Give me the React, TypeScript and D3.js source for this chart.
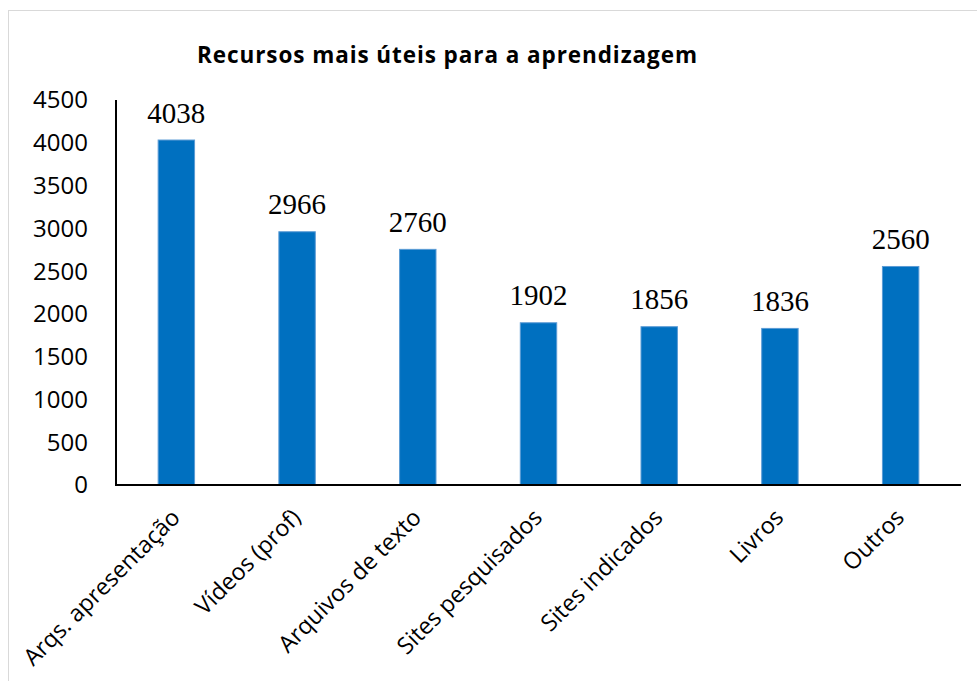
import { useEffect, useRef } from 'react'
import * as d3 from 'd3'

const categories = [
  'Arqs. apresentação',
  'Vídeos (prof)',
  'Arquivos de texto',
  'Sites pesquisados',
  'Sites indicados',
  'Livros',
  'Outros',
]
const values = [4038, 2966, 2760, 1902, 1856, 1836, 2560]
const yTicks = [0, 500, 1000, 1500, 2000, 2500, 3000, 3500, 4000, 4500]
const title = 'Recursos mais úteis para a aprendizagem'

const W = 977
const H = 681
const SANS = '"Open Sans", "Noto Sans", sans-serif'
const SERIF = '"Liberation Serif", "DejaVu Serif", serif'

export default function App() {
  const svgRef = useRef<SVGSVGElement | null>(null)

  useEffect(() => {
    if (!svgRef.current) return
    const svg = d3.select(svgRef.current)
    svg.selectAll('*').remove()

    const margin = { top: 100, right: 16, bottom: 196, left: 116 }
    const w = W - margin.left - margin.right
    const h = H - margin.top - margin.bottom

    // chart frame (runs off the page on the right and bottom)
    svg.append('rect')
      .attr('x', 8.5).attr('y', 10.5)
      .attr('width', W + 20).attr('height', H + 20)
      .attr('fill', '#fff')
      .attr('stroke', '#d9d9d9')

    svg.append('text')
      .attr('x', 447).attr('y', 63)
      .attr('text-anchor', 'middle')
      .attr('font-family', SANS)
      .attr('font-weight', 700)
      .attr('font-size', '22.5px')
      .attr('textLength', 500)
      .attr('fill', '#000')
      .text(title)

    const g = svg.append('g').attr('transform', `translate(${margin.left},${margin.top})`)

    const x = d3.scaleBand<string>()
      .domain(categories)
      .range([0, w])
      .paddingInner(0.69)
      .paddingOuter(0.345)

    const y = d3.scaleLinear().domain([0, 4500]).range([h, 0])

    // Y axis labels
    g.append('g')
      .selectAll('text')
      .data(yTicks)
      .enter().append('text')
      .attr('x', -28)
      .attr('y', d => y(d))
      .attr('dy', '0.35em')
      .attr('text-anchor', 'end')
      .attr('font-family', SANS)
      .attr('font-size', '24px')
      .attr('fill', '#000')
      .text(d => d)

    // Bars
    g.selectAll('.bar')
      .data(values)
      .enter().append('rect')
      .attr('x', (_, i) => x(categories[i])! + 0.5)
      .attr('y', d => y(d) + 0.5)
      .attr('width', x.bandwidth() - 1)
      .attr('height', d => h - y(d) - 0.5)
      .attr('fill', '#0070C0')
      .attr('stroke', '#5B9BD5')
      .attr('stroke-width', 1)

    // Value labels
    g.selectAll('.val')
      .data(values)
      .enter().append('text')
      .attr('x', (_, i) => x(categories[i])! + x.bandwidth() / 2)
      .attr('y', d => y(d) - 17)
      .attr('text-anchor', 'middle')
      .attr('font-family', SERIF)
      .attr('font-size', '29px')
      .attr('fill', '#000')
      .text(d => d)

    // Axis lines
    g.append('line')
      .attr('x1', 0).attr('x2', 0)
      .attr('y1', 0).attr('y2', h)
      .attr('stroke', '#000').attr('stroke-width', 2)
    g.append('line')
      .attr('x1', -1).attr('x2', w)
      .attr('y1', h).attr('y2', h)
      .attr('stroke', '#000').attr('stroke-width', 2)

    // Category labels, rotated
    g.selectAll('.cat')
      .data(categories)
      .enter().append('text')
      .attr('transform', d => `translate(${x(d)! + x.bandwidth() / 2 + 5},${h + 34}) rotate(-45)`)
      .attr('text-anchor', 'end')
      .attr('font-family', SANS)
      .attr('font-size', '23.3px')
      .attr('fill', '#000')
      .text(d => d)
  }, [])

  return (
    <svg
      ref={svgRef}
      width={W}
      height={H}
      style={{ position: 'absolute', left: 0, top: 0, display: 'block', background: '#fff' }}
    />
  )
}
